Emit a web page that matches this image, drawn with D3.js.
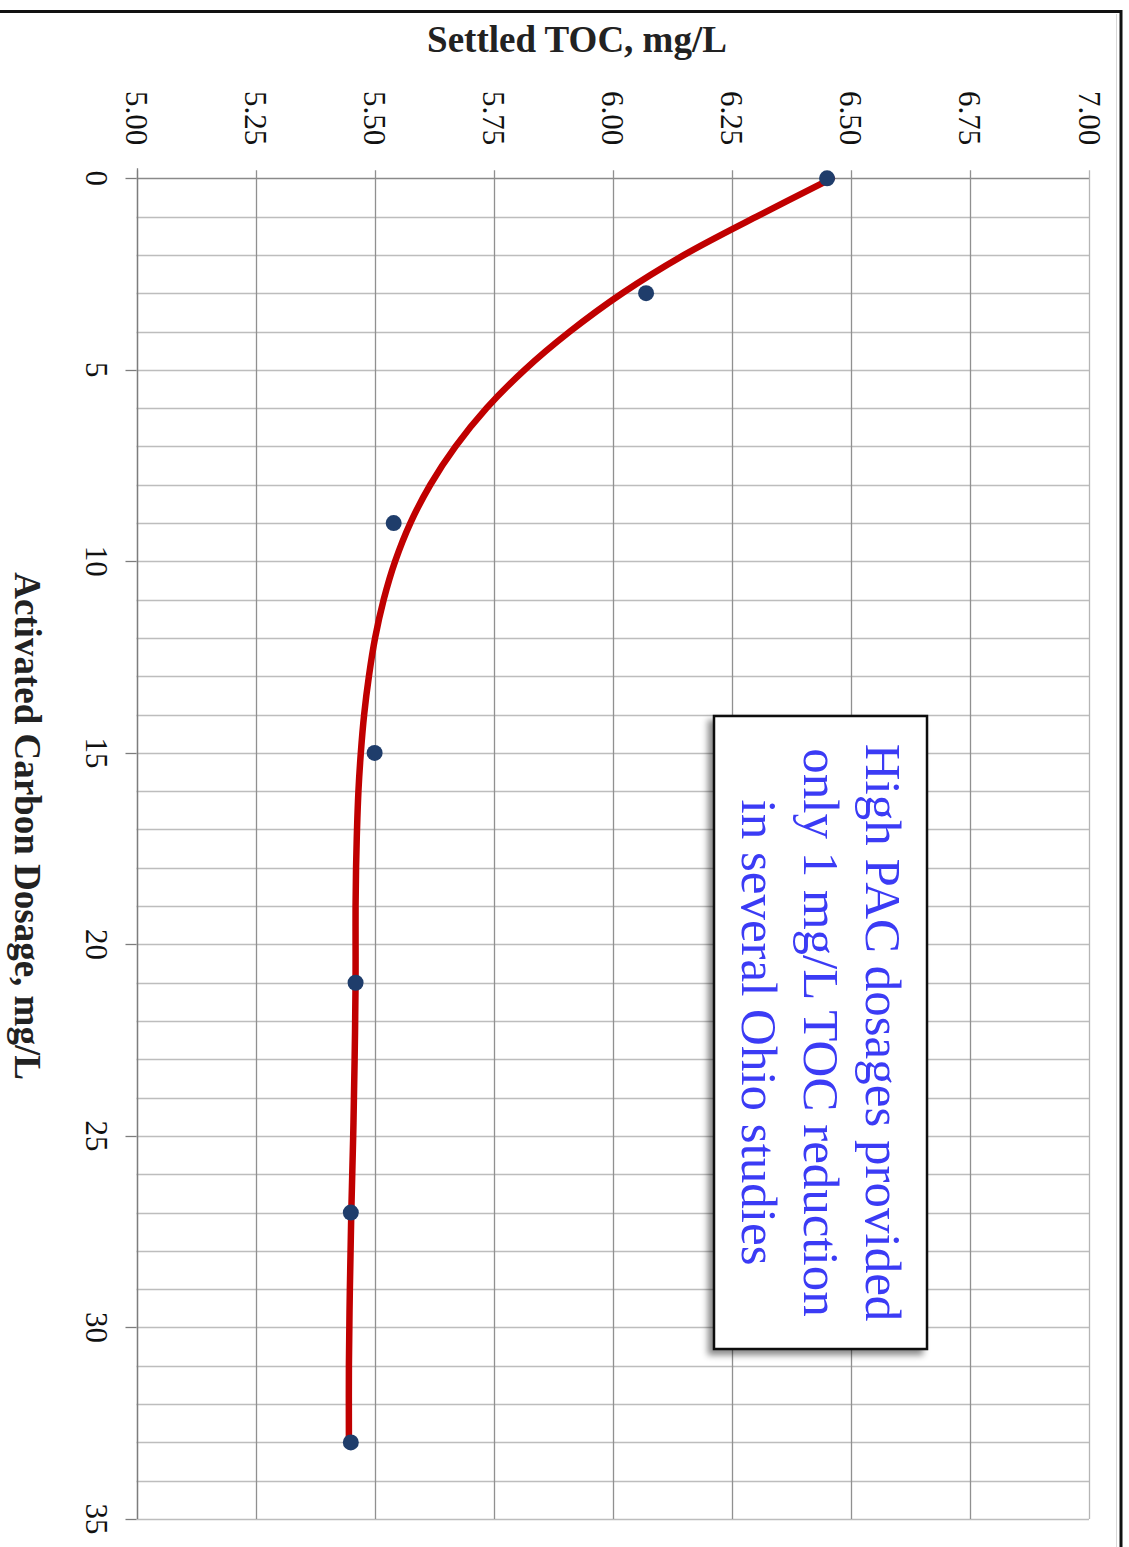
<!DOCTYPE html>
<html>
<head>
<meta charset="utf-8">
<script src="https://cdn.jsdelivr.net/npm/d3@7"></script>
<style>
  html, body { margin: 0; padding: 0; background: #fff; }
  svg { display: block; }
  text { font-family: "Liberation Serif", "Times New Roman", serif; }
</style>
</head>
<body>
<script>
// Jar-test results: settled TOC versus powdered activated carbon dose
const dosage = [0, 3, 9, 15, 21, 27, 33];
const settledToc = [6.45, 6.07, 5.54, 5.50, 5.46, 5.45, 5.45];

// Fitted trend curve sampled along the dose range
const trendDosage = [0, 1, 2, 3, 4, 5, 6, 7, 8, 9, 10, 11, 12, 13, 14, 15, 16, 17, 18, 19, 20, 21, 23, 25, 27, 29, 31, 33];
const trendToc = [6.46, 6.302, 6.15, 6.02, 5.91, 5.815, 5.735, 5.67, 5.617, 5.575, 5.543, 5.519, 5.501, 5.488, 5.478, 5.471, 5.466, 5.463, 5.461, 5.460, 5.460, 5.460, 5.458, 5.455, 5.451, 5.448, 5.446, 5.446];

// Axis ticks
const tocTicks = [5.00, 5.25, 5.50, 5.75, 6.00, 6.25, 6.50, 6.75, 7.00];
const dosageTicks = [0, 5, 10, 15, 20, 25, 30, 35];
const dosageMinor = d3.range(0, 36, 1);

const noteLines = ["High PAC dosages provided", "only 1 mg/L TOC reduction", "in several Ohio studies"];

const W = 1129, H = 1547;
const svg = d3.select("body").append("svg").attr("width", W).attr("height", H);

// The chart is laid out turned a quarter-turn clockwise:
// TOC runs left-to-right, dosage runs top-to-bottom.
const x = d3.scaleLinear().domain([5, 7]).range([136.5, 1089]);
const y = d3.scaleLinear().domain([0, 35]).range([178.3, 1519]);

const defs = svg.append("defs");
const shadow = defs.append("filter").attr("id", "boxShadow")
  .attr("x", "-20%").attr("y", "-20%").attr("width", "140%").attr("height", "140%");
shadow.append("feDropShadow").attr("dx", -5).attr("dy", 5).attr("stdDeviation", 3)
  .attr("flood-color", "#000").attr("flood-opacity", 0.45);

// Outer frame (top and right edges)
svg.append("path")
  .attr("d", `M0,11.5 H1121 V${H}`)
  .attr("fill", "none").attr("stroke", "#111").attr("stroke-width", 3);
svg.append("line").attr("x1", 1116.5).attr("x2", 1116.5).attr("y1", 14).attr("y2", H)
  .attr("stroke", "#d8d8d8").attr("stroke-width", 1);

// Gridlines: one per mg/L dose, one per 0.25 mg/L TOC
const grid = svg.append("g");
grid.selectAll("line.h").data(dosageMinor).join("line")
  .attr("class", "h")
  .attr("x1", x(5)).attr("x2", x(7))
  .attr("y1", d => Math.round(y(d)) + 0.5).attr("y2", d => Math.round(y(d)) + 0.5)
  .attr("stroke", d => d === 0 ? "#8a8a8a" : "#bdbdbd").attr("stroke-width", 1.3);
grid.selectAll("line.v").data(tocTicks).join("line")
  .attr("class", "v")
  .attr("x1", d => Math.round(x(d)) + 0.5).attr("x2", d => Math.round(x(d)) + 0.5)
  .attr("y1", y(0) - 8).attr("y2", y(35))
  .attr("stroke", (d, i) => i === tocTicks.length - 1 ? "#b5b5b5" : "#909090").attr("stroke-width", 1.3);

// Dosage axis line with major ticks
svg.append("line")
  .attr("x1", Math.round(x(5)) + 0.5).attr("x2", Math.round(x(5)) + 0.5)
  .attr("y1", y(0) - 10).attr("y2", y(35))
  .attr("stroke", "#7d7d7d").attr("stroke-width", 1.3);
svg.append("g").selectAll("line").data(dosageTicks).join("line")
  .attr("x1", x(5) - 11).attr("x2", x(5))
  .attr("y1", d => Math.round(y(d)) + 0.5).attr("y2", d => Math.round(y(d)) + 0.5)
  .attr("stroke", "#7d7d7d").attr("stroke-width", 1.3);

// TOC tick labels (turned)
svg.append("g").selectAll("text").data(tocTicks).join("text")
  .attr("transform", d => `translate(${x(d)},118) rotate(90)`)
  .attr("text-anchor", "middle").attr("dominant-baseline", "central")
  .attr("font-size", 31).attr("fill", "#111")
  .text(d => d3.format(".2f")(d));

// Dosage tick labels (turned)
svg.append("g").selectAll("text").data(dosageTicks).join("text")
  .attr("transform", d => `translate(96,${y(d)}) rotate(90)`)
  .attr("text-anchor", "middle").attr("dominant-baseline", "central")
  .attr("font-size", 31).attr("fill", "#111")
  .text(d => d);

// Axis titles
svg.append("text")
  .attr("x", 577).attr("y", 52)
  .attr("text-anchor", "middle").attr("font-size", 37).attr("font-weight", "bold").attr("fill", "#222")
  .text("Settled TOC, mg/L");
svg.append("text")
  .attr("transform", `translate(27,826) rotate(90)`)
  .attr("text-anchor", "middle").attr("dominant-baseline", "central")
  .attr("font-size", 37).attr("font-weight", "bold").attr("fill", "#222")
  .text("Activated Carbon Dosage, mg/L");

// Trend curve
const trend = trendDosage.map((d, i) => [trendToc[i], d]);
svg.append("path")
  .datum(trend)
  .attr("d", d3.line().x(d => x(d[0])).y(d => y(d[1])).curve(d3.curveCatmullRom.alpha(0.5)))
  .attr("fill", "none").attr("stroke", "#c00000").attr("stroke-width", 6.5).attr("stroke-linecap", "round");

// Measured points
svg.append("g").selectAll("circle").data(dosage).join("circle")
  .attr("cx", (d, i) => x(settledToc[i])).attr("cy", d => y(d))
  .attr("r", 8).attr("fill", "#1f3d6b");

// Callout box
const box = { x0: 714, y0: 716, x1: 927, y1: 1349 };
svg.append("rect")
  .attr("x", box.x0).attr("y", box.y0)
  .attr("width", box.x1 - box.x0).attr("height", box.y1 - box.y0)
  .attr("fill", "#fff").attr("stroke", "#111").attr("stroke-width", 2.5)
  .attr("filter", "url(#boxShadow)");
const cy = (box.y0 + box.y1) / 2;
svg.append("g").selectAll("text").data(noteLines).join("text")
  .attr("transform", (d, i) => `translate(${883 - i * 62},${cy}) rotate(90)`)
  .attr("text-anchor", "middle").attr("dominant-baseline", "central")
  .attr("font-size", 51).attr("fill", "#3b3bf5")
  .text(d => d);
</script>
</body>
</html>
